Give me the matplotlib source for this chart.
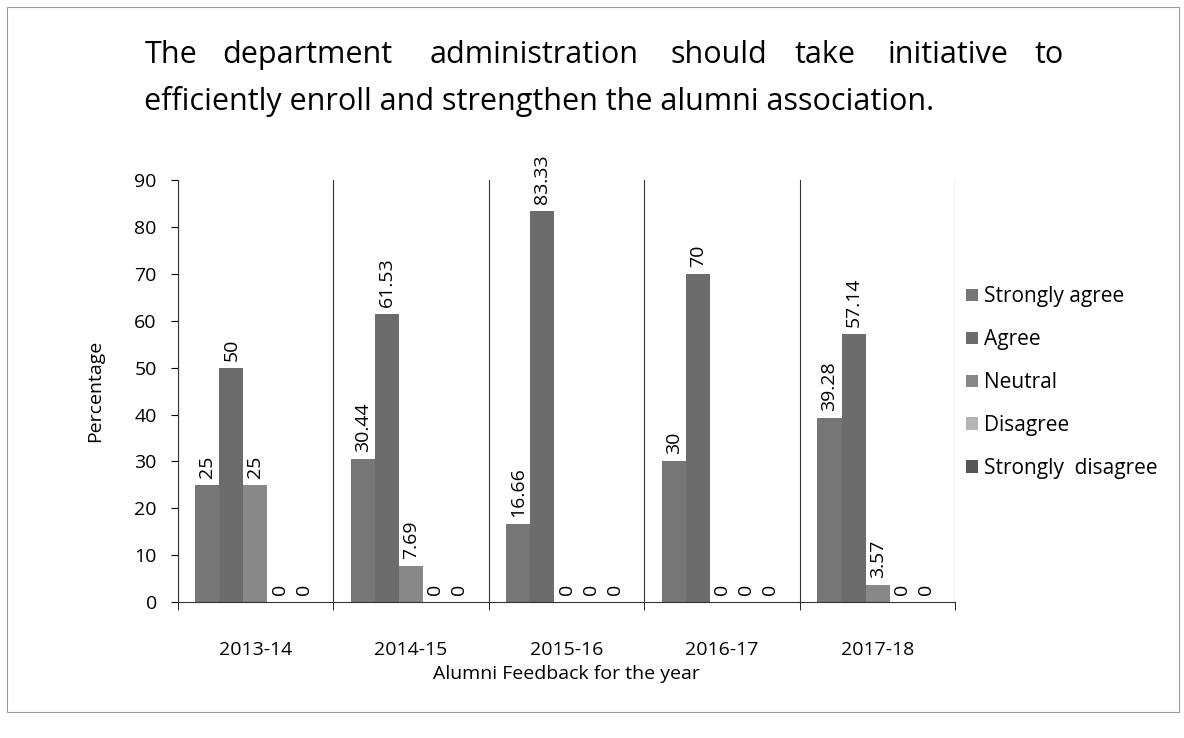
import matplotlib.pyplot as plt
import numpy as np
from matplotlib.patches import Rectangle

years = ['2013-14', '2014-15', '2015-16', '2016-17', '2017-18']
series = ['Strongly agree', 'Agree', 'Neutral', 'Disagree', 'Strongly  disagree']
strongly_agree = [25, 30.44, 16.66, 30, 39.28]
agree = [50, 61.53, 83.33, 70, 57.14]
neutral = [25, 7.69, 0, 0, 3.57]
disagree = [0, 0, 0, 0, 0]
strongly_disagree = [0, 0, 0, 0, 0]
labels = [
    ['25', '30.44', '16.66', '30', '39.28'],
    ['50', '61.53', '83.33', '70', '57.14'],
    ['25', '7.69', '0', '0', '3.57'],
    ['0', '0', '0', '0', '0'],
    ['0', '0', '0', '0', '0'],
]
title_words = ['The', 'department', 'administration', 'should', 'take', 'initiative', 'to']
title_x = [0.122, 0.188, 0.363, 0.566, 0.671, 0.750, 0.874]
title_line2 = 'efficiently enroll and strengthen the alumni association.'
colors = ['#767676', '#6c6c6c', '#888888', '#b4b4b4', '#555555']

plt.rcParams['font.family'] = ['Open Sans', 'DejaVu Sans']

fig = plt.figure(figsize=(11.84, 7.38), dpi=100)
ax = fig.add_axes([0.150, 0.184, 0.657, 0.572])

values = [strongly_agree, agree, neutral, disagree, strongly_disagree]
x = np.arange(len(years))
w = 0.155
for i, (vals, name) in enumerate(zip(values, series)):
    pos = x - 2 * w + i * w
    ax.bar(pos, vals, w, color=colors[i], label=name, zorder=2)
    for p, v, t in zip(pos, vals, labels[i]):
        ax.text(p, v + 1.5, t, rotation=90, ha='center', va='bottom',
                fontsize=14, clip_on=False)

ax.set_xlim(-0.5, len(years) - 0.5)
ax.set_ylim(0, 90)
ax.set_yticks(range(0, 91, 10))
ax.set_xticks(x)
ax.set_xticklabels(years, fontsize=14)
ax.tick_params(axis='x', length=0, pad=28)
ax.tick_params(axis='y', labelsize=14, direction='out', length=5, pad=10)
ax.set_xticks(np.arange(-0.5, len(years), 1), minor=True)
ax.tick_params(axis='x', which='minor', length=6, direction='out')
ax.grid(axis='x', which='minor', color='#333333', linewidth=0.8, zorder=0)
for s in ['top', 'right']:
    ax.spines[s].set_visible(False)
ax.spines['left'].set_color('#333333')
ax.spines['bottom'].set_color('#333333')

ax.set_xlabel('Alumni Feedback for the year', fontsize=14, labelpad=4)
ax.set_ylabel('Percentage', fontsize=14, labelpad=22)

for word, wx in zip(title_words, title_x):
    fig.text(wx, 0.925, word, fontsize=22, ha='left', va='center')
fig.text(0.122, 0.862, title_line2, fontsize=22, ha='left', va='center')

ax.legend(loc='center left', bbox_to_anchor=(0.99, 0.52), frameon=False,
          fontsize=15, handlelength=0.55, handleheight=0.55, handletextpad=0.3,
          labelspacing=1.05)

fig.patches.append(Rectangle((0.006, 0.035), 0.99, 0.955, transform=fig.transFigure,
                             fill=False, edgecolor='#999999', linewidth=0.8))

fig.savefig('out.png', dpi=100)
